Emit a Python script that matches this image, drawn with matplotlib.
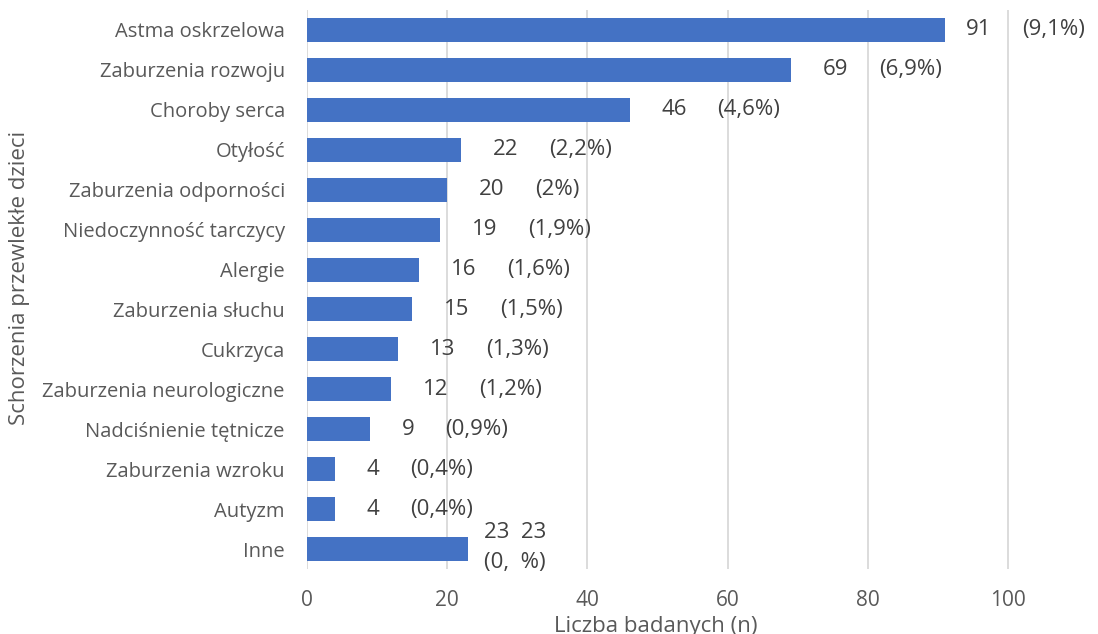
import matplotlib
matplotlib.use("Agg")
import matplotlib.pyplot as plt

categories = ["Astma oskrzelowa", "Zaburzenia rozwoju", "Choroby serca", "Otyłość",
              "Zaburzenia odporności", "Niedoczynność tarczycy", "Alergie",
              "Zaburzenia słuchu", "Cukrzyca", "Zaburzenia neurologiczne",
              "Nadciśnienie tętnicze", "Zaburzenia wzroku", "Autyzm", "Inne"]
values = [91, 69, 46, 22, 20, 19, 16, 15, 13, 12, 9, 4, 4, 23]
value_labels = ["91", "69", "46", "22", "20", "19", "16", "15", "13", "12", "9", "4", "4", "23  23"]
pct_labels = ["(9,1%)", "(6,9%)", "(4,6%)", "(2,2%)", "(2%)", "(1,9%)", "(1,6%)",
              "(1,5%)", "(1,3%)", "(1,2%)", "(0,9%)", "(0,4%)", "(0,4%)", "(0,  %)"]
xticks = [0, 20, 40, 60, 80, 100]

plt.rcParams['font.family'] = ['Open Sans', 'DejaVu Sans']
txt = '#595959'
lbl = '#404040'
bar_color = '#4472C4'

fig = plt.figure(figsize=(10.98, 6.34), dpi=100)
ax = fig.add_axes([307/1098, 1-569/634, 1-307/1098, (569-10)/634])

n = len(categories)
ypos = list(range(n))
ax.barh(ypos, values, height=0.6, color=bar_color, zorder=3)
ax.set_ylim(n - 0.5, -0.5)
ax.set_xlim(0, 112.8)
ax.set_yticks(ypos)
ax.set_yticklabels(categories, fontsize=14.5, color=txt)
ax.set_xticks(xticks)
ax.set_xticklabels([str(t) for t in xticks], fontsize=15, color=txt)
ax.tick_params(axis='both', length=0)
ax.tick_params(axis='y', pad=16)
ax.tick_params(axis='x', pad=15)
ax.grid(axis='x', color='#D9D9D9', linewidth=1.3, zorder=0)
for s in ax.spines.values():
    s.set_visible(False)

for i, (v, vl, pl) in enumerate(zip(values, value_labels, pct_labels)):
    if i == n - 1:
        ax.annotate(vl + "\n" + pl, xy=(v, i), xytext=(11, 1), textcoords='offset points',
                    ha='left', va='center', fontsize=16, color=lbl, linespacing=1.6)
        continue
    off = 15 if i == 0 else 23
    t1 = ax.annotate(vl, xy=(v, i), xytext=(off, 0), textcoords='offset points',
                     ha='left', va='center', fontsize=16, color=lbl)
    ax.annotate(pl, xy=(1, 0.5), xycoords=t1, xytext=(22, 0), textcoords='offset points',
                ha='left', va='center', fontsize=16, color=lbl)

ax.set_xlabel("Liczba badanych (n)", fontsize=16, color=txt)
ax.xaxis.set_label_coords((656-307)/(1098-307), -(616-569)/559)
ax.set_ylabel("Schorzenia przewlekłe dzieci", fontsize=16, color=txt)
ax.yaxis.set_label_coords(-(307-30)/(1098-307), 0.52)

fig.savefig("out.png", dpi=100)
